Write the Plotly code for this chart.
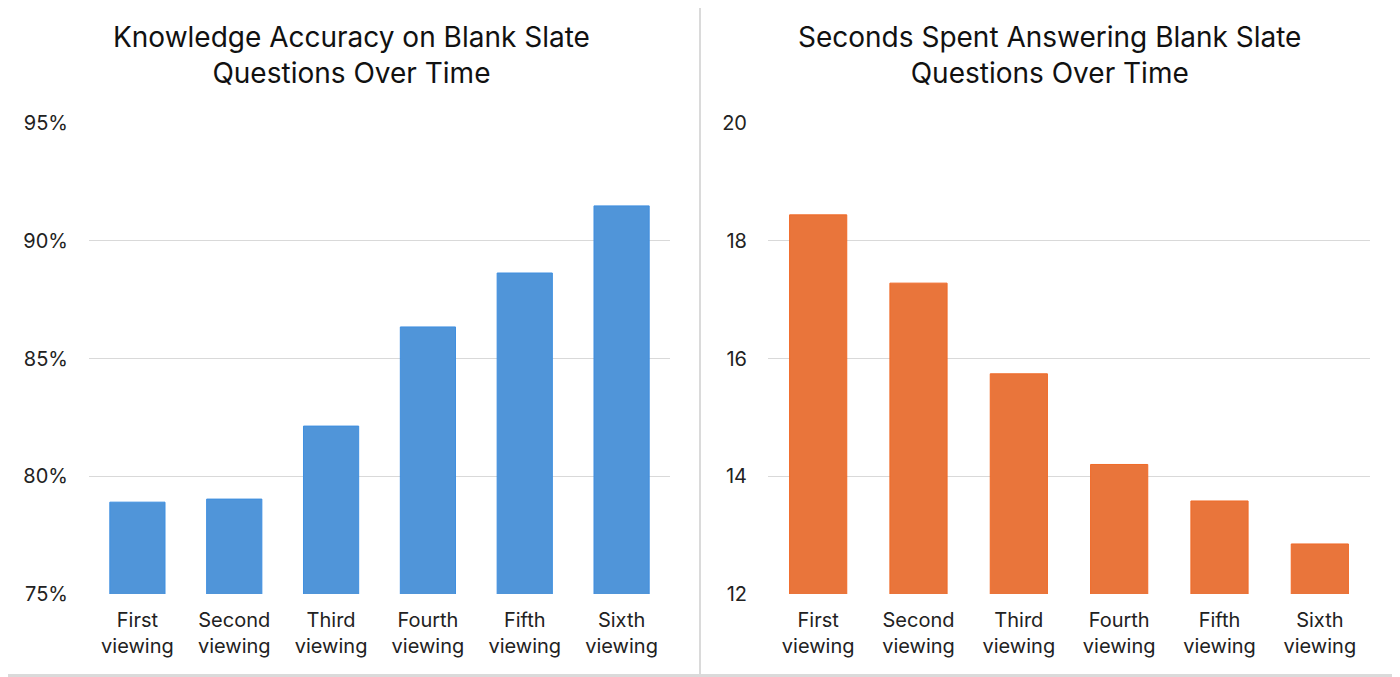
import plotly.graph_objects as go

categories = ["First<br>viewing", "Second<br>viewing", "Third<br>viewing",
              "Fourth<br>viewing", "Fifth<br>viewing", "Sixth<br>viewing"]
accuracy = [0.789, 0.7903, 0.8213, 0.8634, 0.8863, 0.9148]
seconds = [18.44, 17.28, 15.74, 14.20, 13.58, 12.85]

left_title = "Knowledge Accuracy on Blank Slate<br>Questions Over Time"
right_title = "Seconds Spent Answering Blank Slate<br>Questions Over Time"

# the page puts the graph 8px in from the top-left corner, so size it to end at the window edge
W, H, OFF = 1392, 669, 8


def px(x):
    return (x - OFF) / W


def py(y):
    return 1 - (y - OFF) / H


font = "Inter, Roboto, sans-serif"
grid = "#d9d9d9"
border = "#dadada"

fig = go.Figure()

fig.add_trace(go.Bar(
    x=categories, y=accuracy, xaxis="x", yaxis="y",
    marker=dict(color="#5095d9", line=dict(color="#3f8fe0", width=1)),
    hoverinfo="x+y",
))
fig.add_trace(go.Bar(
    x=categories, y=seconds, xaxis="x2", yaxis="y2",
    marker=dict(color="#e9753b", line=dict(color="#f06a28", width=1)),
    hoverinfo="x+y",
))

xcommon = dict(showgrid=False, zeroline=False, showline=False, automargin=False,
               tickfont=dict(size=20, color="#222222", family=font),
               ticks="", ticklabelstandoff=12)
ycommon = dict(showgrid=True, gridcolor=grid, gridwidth=1, zeroline=False,
               showline=False, ticks="", automargin=False,
               tickfont=dict(size=20, color="#222222", family=font),
               ticklabelstandoff=20)

ydom = [py(594), py(123)]

fig.update_layout(
    width=W, height=H,
    margin=dict(l=0, r=0, t=0, b=0, pad=0, autoexpand=False),
    paper_bgcolor="white", plot_bgcolor="white",
    showlegend=False, bargap=0.43,
    font=dict(family=font, color="#222222"),
    xaxis=dict(domain=[px(89), px(670)], anchor="y", **xcommon),
    yaxis=dict(domain=ydom, anchor="x", range=[0.75, 0.95],
               dtick=0.05, tickformat=".0%", **ycommon),
    xaxis2=dict(domain=[px(768), px(1370)], anchor="y2", **xcommon),
    yaxis2=dict(domain=ydom, anchor="x2", range=[12, 20],
                dtick=2, **ycommon),
    annotations=[
        dict(text=left_title, x=px(351), y=py(55.5), xref="paper", yref="paper",
             xanchor="center", yanchor="middle", showarrow=False,
             font=dict(size=28, color="#111111", family=font)),
        dict(text=right_title, x=px(1049), y=py(55.5), xref="paper", yref="paper",
             xanchor="center", yanchor="middle", showarrow=False,
             font=dict(size=28, color="#111111", family=font)),
    ],
    shapes=[
        dict(type="rect", xref="paper", yref="paper", x0=-0.01, x1=px(1397.5),
             y0=py(675.5), y1=1.01, line=dict(color=border, width=3)),
        dict(type="line", xref="paper", yref="paper", x0=px(700), x1=px(700),
             y0=0, y1=1.01, line=dict(color=border, width=2)),
    ],
)

fig.write_html("out.html")
